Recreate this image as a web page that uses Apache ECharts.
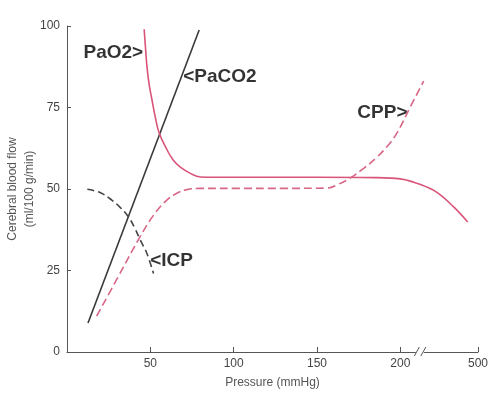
<!DOCTYPE html>
<html>
<head>
<meta charset="utf-8">
<script src="https://cdn.jsdelivr.net/npm/echarts@6/dist/echarts.min.js"></script>
<style>html,body{margin:0;padding:0;background:#fff;}#c{width:500px;height:393px;}</style>
</head>
<body>
<div id="c"></div>
<script>
// x values are positions on the drawn (broken) pressure axis; 246.6 is where "500" sits
const xTickValues = [50, 100, 150, 200, 246.6];
const xTickLabels = ['50', '100', '150', '200', '500'];
const yTickValues = [0, 25, 50, 75, 100];

const paco2X = [12.6, 79.3];
const paco2Y = [8.9, 98.8];

const pao2X = [46.3, 47.2, 48, 49.3, 51, 53, 55.3, 60, 63.7, 68, 74, 80, 100, 150, 185, 200, 208, 215, 222.4, 232, 240.4];
const pao2Y = [99, 92.6, 87.4, 82, 77.3, 72, 67.2, 62, 58.9, 56.7, 54.8, 53.7, 53.6, 53.6, 53.5, 53.1, 52.1, 50.8, 48.8, 44.5, 39.9];

const cppX = [17.8, 30, 43.9, 52, 59.9, 65.9, 72, 80, 100, 130, 156, 163, 170, 178, 186, 192, 198, 206, 214];
const cppY = [11, 22.4, 35.4, 42, 46.6, 48.7, 49.8, 50.2, 50.2, 50.2, 50.3, 51.5, 53.4, 56.3, 59.8, 63, 67.2, 75.2, 83.1];

const icpX = [12.2, 19.8, 26.9, 32, 36.8, 40.5, 43.9, 47.9, 51.9];
const icpY = [49.9, 48.9, 46.6, 44.3, 41.5, 38.2, 34.4, 30.3, 24.1];

const labelTexts = ['PaO2>', '<PaCO2', 'CPP>', '<ICP'];
const labelX = [45.7, 69.7, 204.3, 49.9];
const labelY = [91.7, 84.4, 73.3, 27.9];

const axisBreakAt = 212;

const zip = (xs, ys) => xs.map((x, i) => [x, ys[i]]);
const FONT = '"Liberation Sans", Arial, sans-serif';
const PINK = '#d95479';
const DARK = '#3a3a3a';

const chart = echarts.init(document.getElementById('c'));
chart.setOption({
  animation: false,
  backgroundColor: '#fff',
  grid: { left: 67, right: 22, top: 26, bottom: 41, containLabel: false, outerBoundsMode: 'none' },
  xAxis: {
    type: 'value', min: 0, max: 246.6,
    name: 'Pressure (mmHg)', nameLocation: 'middle', nameGap: 25, nameMoveOverlap: false,
    nameTextStyle: { color: '#555', fontSize: 12, fontFamily: FONT },
    axisLine: { show: true, lineStyle: { color: '#555', width: 1 } },
    axisTick: { show: true, inside: true, length: 5, customValues: xTickValues, lineStyle: { color: '#555' } },
    axisLabel: {
      customValues: xTickValues, color: '#444', fontSize: 12, fontFamily: FONT, margin: 6,
      formatter: v => { const i = xTickValues.findIndex(t => Math.abs(t - v) < 0.01); return i >= 0 ? xTickLabels[i] : ''; }
    },
    splitLine: { show: false }
  },
  yAxis: {
    type: 'value', min: 0, max: 100, interval: 25,
    name: 'Cerebral blood flow\n(ml/100 g/min)', nameLocation: 'middle', nameGap: 29, nameMoveOverlap: false,
    nameTextStyle: { color: '#555', fontSize: 12, fontFamily: FONT, lineHeight: 17 },
    axisLine: { show: true, lineStyle: { color: '#555', width: 1 } },
    axisTick: { show: true, inside: true, length: 4, lineStyle: { color: '#555' } },
    axisLabel: { color: '#444', fontSize: 12, fontFamily: FONT, margin: 7 },
    splitLine: { show: false }
  },
  series: [
    { name: 'PaCO2', type: 'line', data: zip(paco2X, paco2Y), showSymbol: false, symbol: 'none',
      lineStyle: { color: DARK, width: 1.6 } },
    { name: 'PaO2', type: 'line', data: zip(pao2X, pao2Y), showSymbol: false, symbol: 'none', smooth: 0.4,
      lineStyle: { color: PINK, width: 1.6 } },
    { name: 'CPP', type: 'line', data: zip(cppX, cppY), showSymbol: false, symbol: 'none', smooth: 0.4,
      lineStyle: { color: '#d86685', width: 1.6, type: [8, 4] } },
    { name: 'ICP', type: 'line', data: zip(icpX, icpY), showSymbol: false, symbol: 'none', smooth: 0.4,
      lineStyle: { color: '#444', width: 1.6, type: [7, 4] } },
    { name: 'labels', type: 'scatter', symbolSize: 0, silent: true,
      data: labelTexts.map((t, i) => ({
        value: [labelX[i], labelY[i]],
        label: { show: true, formatter: t, position: [0, 0],
          align: t.endsWith('>') ? 'right' : 'left', verticalAlign: 'middle',
          color: '#000', fontSize: 19, fontWeight: 'bold', fontFamily: FONT }
      })) }
  ]
});

// axis break marks "//"
const bp = chart.convertToPixel({ gridIndex: 0 }, [axisBreakAt, 0]);
chart.setOption({
  graphic: [
    { type: 'rect', shape: { x: bp[0] - 4.5, y: bp[1] - 2, width: 8, height: 4 }, style: { fill: '#fff' }, z: 100 },
    { type: 'line', shape: { x1: bp[0] - 6, y1: bp[1] + 4, x2: bp[0] - 1, y2: bp[1] - 5 }, style: { stroke: '#555', lineWidth: 1 }, z: 101 },
    { type: 'line', shape: { x1: bp[0] + 0.5, y1: bp[1] + 4, x2: bp[0] + 5.5, y2: bp[1] - 5 }, style: { stroke: '#555', lineWidth: 1 }, z: 101 }
  ]
});
</script>
</body>
</html>
